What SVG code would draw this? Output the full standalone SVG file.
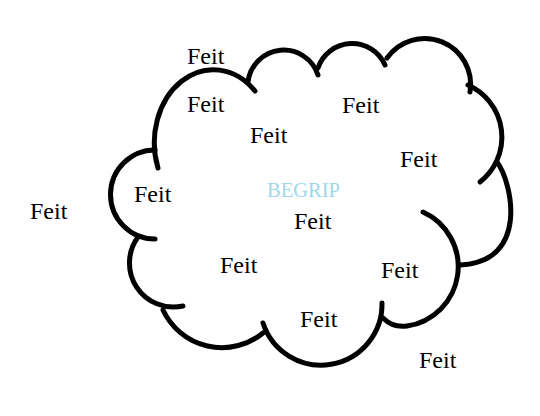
<svg xmlns="http://www.w3.org/2000/svg" width="540" height="416" viewBox="0 0 540 416">
<style>
.c{fill:none;stroke:#000;stroke-width:5;stroke-linecap:round}
.f{font-family:"Liberation Serif","Times New Roman",serif;font-size:24px;fill:#000}
.b{font-family:"Liberation Serif","Times New Roman",serif;font-size:22px;fill:#9fd8ea}
</style>
<rect width="540" height="416" fill="#fff"/>
<g id="cloud">
<path class="c" d="M158 168 A59 73 0 0 1 255 91"/>
<path class="c" d="M248 82 A36 36 0 0 1 318 75"/>
<path class="c" d="M318 68 A36 36 0 0 1 385 65"/>
<path class="c" d="M387 58 A46 46 0 0 1 470 92"/>
<path class="c" d="M468 85 A57 57 0 0 1 480 182"/>
<path class="c" d="M497 162 C512 182 530 262 460 265"/>
<path class="c" d="M423 212 A60 60 0 0 1 407 326 Q393 328 383 318"/>
<path class="c" d="M382 303 A61 61 0 0 1 263 323"/>
<path class="c" d="M263 333 A65 65 0 0 1 163 310"/>
<path class="c" d="M138 237 A44 44 0 0 0 183 306"/>
<path class="c" d="M155 239 A44.5 44.5 0 0 1 155 150"/>
</g>
<g id="labels">
<text id="begrip" class="b" x="267" y="197" textLength="73" lengthAdjust="spacingAndGlyphs">BEGRIP</text>
<text id="feit1" class="f" x="187" y="64">Feit</text>
<text id="feit2" class="f" x="187" y="112">Feit</text>
<text id="feit3" class="f" x="250" y="143">Feit</text>
<text id="feit4" class="f" x="342" y="113">Feit</text>
<text id="feit5" class="f" x="400" y="167">Feit</text>
<text id="feit6" class="f" x="134" y="202">Feit</text>
<text id="feit7" class="f" x="30" y="219">Feit</text>
<text id="feit8" class="f" x="294" y="229">Feit</text>
<text id="feit9" class="f" x="220" y="273">Feit</text>
<text id="feit10" class="f" x="381" y="278">Feit</text>
<text id="feit11" class="f" x="300" y="327">Feit</text>
<text id="feit12" class="f" x="419" y="368">Feit</text>
</g>
</svg>
